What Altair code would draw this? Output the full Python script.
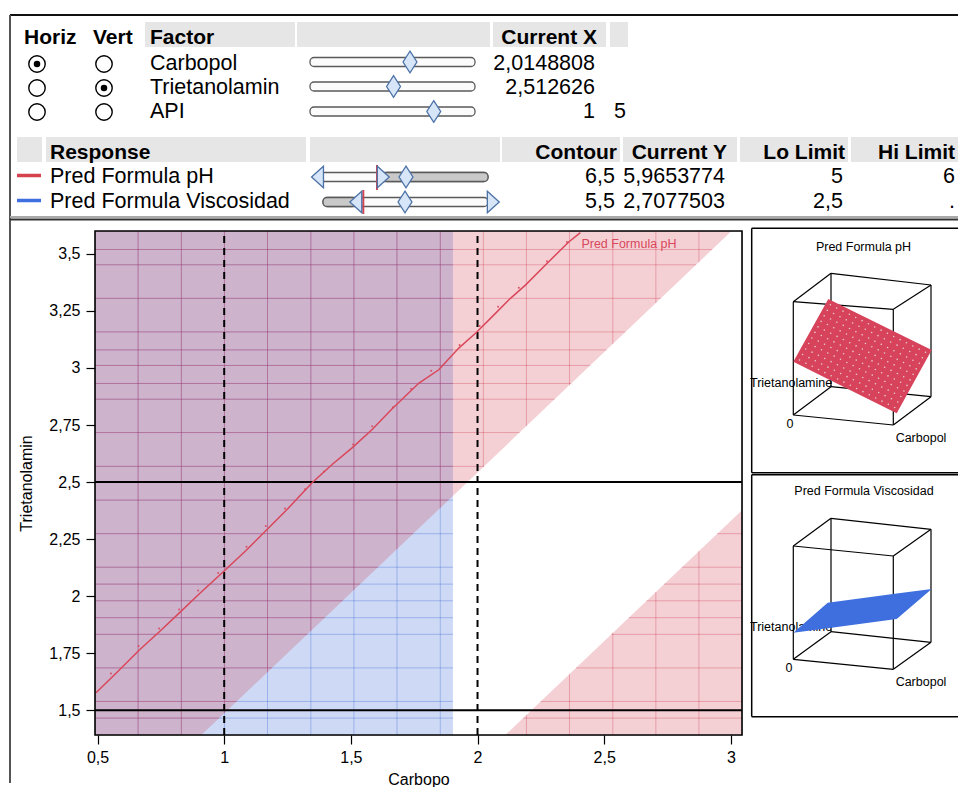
import altair as alt
import numpy as np
import pandas as pd

FONT = "Liberation Sans"

# ---------------- values ----------------
FACTORS = ["Carbopol", "Trietanolamin", "API"]
CURRENT_X = ["2,0148808", "2,512626", "1"]
FACTOR_VALUE = [2.0148808, 2.512626, 1.0]
FACTOR_LOW = [0.5, 1.5, 0.25]
FACTOR_HIGH = [3.0, 3.5, 1.25]
HORIZ_ON = [True, False, False]
VERT_ON = [False, True, False]
CUT_COLUMN = ["", "", "5"]

RESPONSES = ["Pred Formula pH", "Pred Formula Viscosidad"]
RESPONSE_COLOR = ["#d5434f", "#3e6fe0"]
CONTOUR = ["6,5", "5,5"]
CURRENT_Y = ["5,9653774", "2,7077503"]
LO_LIMIT = ["5", "2,5"]
HI_LIMIT = ["6", "."]

X_TICKS = [0.5, 1, 1.5, 2, 2.5, 3]
Y_TICKS = [1.5, 1.75, 2, 2.25, 2.5, 2.75, 3, 3.25, 3.5]
X_DOMAIN = [0.49, 3.044]
Y_DOMAIN = [1.392, 3.6]

VISC_EDGE = 1.903                      # Viscosidad = 2,5 (Lo Limit)
PH_HI_EDGE_X = [0.910, 3.003]          # pH = 6 (Hi Limit)
PH_HI_EDGE_Y = [1.392, 3.600]
PH_LO_EDGE_X = [2.110, 3.044]          # pH = 5 (Lo Limit)
PH_LO_EDGE_Y = [1.392, 2.377]

MESH_X = [0.660, 0.831, 1.001, 1.171, 1.342, 1.512, 1.682, 1.853, 2.023,
          2.193, 2.363, 2.534, 2.704, 2.874]
MESH_Y = [3.519, 3.452, 3.305, 3.158, 3.079, 3.011, 2.932, 2.863, 2.717,
          2.569, 2.421, 2.274, 2.127, 2.053, 1.980, 1.906, 1.833, 1.686,
          1.539, 1.466]

REF_H = [1.5, 2.5]
REF_V = [1.0, 2.0]

CONTOUR_X = [0.494, 0.579, 0.664, 0.743, 0.822, 0.901, 1.006, 1.085, 1.164,
             1.243, 1.348, 1.427, 1.506, 1.584, 1.663, 1.769, 1.847, 1.926,
             1.992, 2.058, 2.130, 2.189, 2.274, 2.360, 2.406]
CONTOUR_Y = [1.577, 1.669, 1.763, 1.843, 1.926, 2.010, 2.117, 2.199, 2.287,
             2.374, 2.498, 2.578, 2.651, 2.730, 2.821, 2.934, 2.992, 3.087,
             3.152, 3.225, 3.305, 3.363, 3.458, 3.552, 3.593]
DOT_X = [0.553, 0.662, 0.743, 0.822, 0.897, 0.976, 1.088, 1.164, 1.240, 1.319,
         1.394, 1.509, 1.584, 1.666, 1.738, 1.817, 1.929, 2.008, 2.081, 2.163,
         2.274, 2.353]
DOT_Y = [1.661, 1.782, 1.859, 1.942, 2.025, 2.102, 2.217, 2.308, 2.384, 2.469,
         2.546, 2.665, 2.745, 2.828, 2.909, 2.988, 3.101, 3.184, 3.268, 3.351,
         3.468, 3.552]
CONTOUR_LABEL = "Pred Formula pH"
CONTOUR_LABEL_AT = (2.41, 3.542)

# 3-D thumbnails (projected corner positions on screen)
CUBE_X = [793.3, 893.3, 893.3, 793.3, 831.0, 931.0, 931.0, 831.0]
CUBE_PH_Y = [301.7, 309.3, 425.0, 415.0, 273.3, 285.0, 396.7, 386.7]
CUBE_VI_Y = [546.0, 556.0, 669.3, 659.3, 518.3, 529.3, 642.3, 631.7]
CUBE_EDGES = [(0, 1), (1, 2), (2, 3), (3, 0), (4, 5), (5, 6), (6, 7), (7, 4),
              (0, 4), (1, 5), (2, 6), (3, 7)]
SURF_PH_X = [793.3, 828.3, 931.7, 896.7]   # left, top, right, bottom corner
SURF_PH_Y = [361.7, 299.0, 350.0, 413.3]
SURF_VI_X = [793.3, 827.7, 931.7, 896.7]
SURF_VI_Y = [632.7, 602.7, 589.0, 619.0]

# ---------------- layout ----------------
PLOT_W, PLOT_H = 647, 504
OX, OY = 95, 231            # screen position of the plot origin
RIGHT = 958                 # right edge of the window content


def scr(df):
    """screen px -> px relative to the plot origin (identity scale)."""
    d = df.copy()
    for c in ("x", "x2"):
        if c in d:
            d["p" + c] = d[c] - OX
    for c in ("y", "y2"):
        if c in d:
            d["p" + c] = d[c] - OY
    return d.drop(columns=[c for c in ("x", "x2", "y", "y2") if c in d])


def chrome(df, mark):
    d = scr(df)
    enc = {"x": alt.X("px:Q", scale=None), "y": alt.Y("py:Q", scale=None)}
    if "px2" in d:
        enc["x2"] = alt.X2("px2:Q")
    if "py2" in d:
        enc["y2"] = alt.Y2("py2:Q")
    if "text" in d:
        enc["text"] = alt.Text("text:N")
    if "color" in d:
        enc["color"] = alt.Color("color:N", scale=None)
    if "fill" in d:
        enc["fill"] = alt.Fill("fill:N", scale=None)
    return mark(alt.Chart(d)).encode(**enc)


# ================= TOP PANEL =================
FROW = [64, 88, 112]
SROW = [62, 86.5, 111.5]
RROW = [177, 202]

cells = pd.DataFrame(
    [dict(x=a, x2=b, y=22, y2=47) for a, b in [(145, 295), (297, 490), (493, 606), (610, 628)]] +
    [dict(x=a, x2=b, y=137, y2=162) for a, b in [(17, 42), (46, 306), (310, 500), (502, 620),
                                                 (623, 737), (740, 848), (851, RIGHT)]])
frame = pd.DataFrame([
    dict(x=10, y=15, x2=RIGHT, y2=15, color="#111111"),
    dict(x=10, y=15, x2=10, y2=783, color="#555555"),
    dict(x=10, y=217, x2=RIGHT, y2=217, color="#aaaaaa"),
    dict(x=10, y=219.5, x2=RIGHT, y2=219.5, color="#333333"),
])
anchor = pd.DataFrame([dict(x=8, x2=9, y=8, y2=9)])
bold_l = pd.DataFrame(dict(text=["Horiz", "Vert", "Factor", "Response"],
                           x=[24, 93, 150, 50], y=[37.5, 37.5, 37.5, 152.5]))
bold_r = pd.DataFrame(dict(text=["Current X", "Contour", "Current Y", "Lo Limit", "Hi Limit"],
                           x=[597, 617, 727, 845, 955], y=[37.5, 152.5, 152.5, 152.5, 152.5]))
reg_l = pd.DataFrame(dict(text=FACTORS + RESPONSES + CUT_COLUMN,
                          x=[150] * 3 + [50] * 2 + [614] * 3,
                          y=FROW + RROW + FROW))
reg_r = pd.DataFrame(dict(text=CURRENT_X + CONTOUR + CURRENT_Y + LO_LIMIT + HI_LIMIT,
                          x=[595] * 3 + [615] * 2 + [725] * 2 + [843] * 2 + [955] * 2,
                          y=FROW + RROW * 4))
radios = pd.DataFrame(dict(x=[37] * 3 + [104] * 3, y=FROW + FROW))
radio_on = pd.DataFrame(dict(
    x=[37 for on in HORIZ_ON if on] + [104 for on in VERT_ON if on],
    y=[r for r, on in zip(FROW, HORIZ_ON) if on] + [r for r, on in zip(FROW, VERT_ON) if on]))
legend_lines = pd.DataFrame(dict(x=[17, 17], x2=[41, 41], y=[175.5, 200.5], y2=[175.5, 200.5],
                                 color=RESPONSE_COLOR))
tracks = pd.DataFrame([dict(x=310, x2=475, y=r - 4.5, y2=r + 4.5, fill="#fbfbfb") for r in SROW] + [
    dict(x=320, x2=488, y=RROW[0] - 4.5, y2=RROW[0] + 4.5, fill="#fbfbfb"),
    dict(x=383, x2=488, y=RROW[0] - 4.5, y2=RROW[0] + 4.5, fill="#c9c9c9"),
    dict(x=323, x2=488, y=RROW[1] - 4.5, y2=RROW[1] + 4.5, fill="#fbfbfb"),
    dict(x=323, x2=356, y=RROW[1] - 4.5, y2=RROW[1] + 4.5, fill="#c9c9c9"),
])
red_marks = pd.DataFrame(dict(x=[377, 363.3], x2=[377, 363.3], y=[165, 190], y2=[190, 214]))
thumb_x = [310 + (v - lo) / (hi - lo) * 165 for v, lo, hi in zip(FACTOR_VALUE, FACTOR_LOW, FACTOR_HIGH)]
diamonds = pd.DataFrame(dict(x=thumb_x + [406, 405], y=SROW + RROW))
tri_left = pd.DataFrame(dict(x=[317.5, 355.8], y=RROW))
tri_right = pd.DataFrame(dict(x=[383.3, 493.3], y=RROW))

DIAMOND = "M0,-1L0.64,0L0,1L-0.64,0Z"
TRI_L = "M-0.55,0L0.55,-1L0.55,1Z"
TRI_R = "M0.55,0L-0.55,-1L-0.55,1Z"
thumb_style = dict(size=470, fill="#d6e6f8", stroke="#4d72a6", strokeWidth=1.3,
                   fillOpacity=1, opacity=1, filled=False)

top_layers = [
    chrome(anchor, lambda c: c.mark_rect(color="white", opacity=0)),
    chrome(cells, lambda c: c.mark_rect(color="#e6e6e6")),
    chrome(frame, lambda c: c.mark_rule(strokeWidth=2)),
    chrome(bold_l, lambda c: c.mark_text(align="left", baseline="middle", font=FONT, fontSize=21,
                                         fontWeight="bold", color="black")),
    chrome(bold_r, lambda c: c.mark_text(align="right", baseline="middle", font=FONT, fontSize=21,
                                         fontWeight="bold", color="black")),
    chrome(reg_l, lambda c: c.mark_text(align="left", baseline="middle", font=FONT, fontSize=21.5,
                                        color="black")),
    chrome(reg_r, lambda c: c.mark_text(align="right", baseline="middle", font=FONT, fontSize=21.5,
                                        color="black")),
    chrome(radios, lambda c: c.mark_point(shape="circle", size=270, fill="white", stroke="black",
                                          strokeWidth=1.4, fillOpacity=1, opacity=1, filled=False)),
    chrome(radio_on, lambda c: c.mark_circle(size=42, color="black", opacity=1)),
    chrome(legend_lines, lambda c: c.mark_rule(strokeWidth=3.5)),
    chrome(tracks, lambda c: c.mark_rect(cornerRadius=4, stroke="#5a5a5a", strokeWidth=1.3)),
    chrome(red_marks, lambda c: c.mark_rule(color="#d5434f", strokeWidth=2)),
    chrome(tri_left, lambda c: c.mark_point(shape=TRI_L, **thumb_style)),
    chrome(tri_right, lambda c: c.mark_point(shape=TRI_R, **thumb_style)),
    chrome(diamonds, lambda c: c.mark_point(shape=DIAMOND, **thumb_style)),
]


# ================= MAIN CONTOUR PLOT =================
xmin, xmax = X_DOMAIN
ymin, ymax = Y_DOMAIN
xs = alt.Scale(domain=X_DOMAIN, nice=False, zero=False)
ys = alt.Scale(domain=Y_DOMAIN, nice=False, zero=False)
label_expr = "replace(format(datum.value, ''), '.', ',')"
x_axis = alt.Axis(values=X_TICKS, labelExpr=label_expr, title="Carbopo", grid=False, domain=False,
                  tickSize=9, tickColor="black", tickWidth=1.2, labelFontSize=16, labelColor="black",
                  labelFont=FONT, titleFont=FONT, titleFontSize=16, titleFontWeight="normal",
                  titleColor="black", labelPadding=5, titlePadding=6, labelOverlap=False)
y_axis = alt.Axis(values=Y_TICKS, labelExpr=label_expr, title="Trietanolamin", grid=False,
                  domain=False, tickSize=9, tickColor="black", tickWidth=1.2, labelFontSize=16,
                  labelColor="black", labelFont=FONT, titleFont=FONT, titleFontSize=16,
                  titleFontWeight="normal", titleColor="black", labelPadding=6, titlePadding=14,
                  labelOverlap=False)


def main(df, mark):
    enc = {"x": alt.X("x:Q", scale=xs, axis=x_axis), "y": alt.Y("y:Q", scale=ys, axis=y_axis)}
    if "x2" in df.columns:
        enc["x2"] = alt.X2("x2:Q")
    if "y2" in df.columns:
        enc["y2"] = alt.Y2("y2:Q")
    if "text" in df.columns:
        enc["text"] = alt.Text("text:N")
    return mark(alt.Chart(df)).encode(**enc)


def hi_y(x):
    return float(np.interp(x, PH_HI_EDGE_X, PH_HI_EDGE_Y))


def hi_x(y):
    return float(np.interp(y, PH_HI_EDGE_Y, PH_HI_EDGE_X))


def lo_y(x):
    return float(np.interp(x, PH_LO_EDGE_X, PH_LO_EDGE_Y))


def lo_x(y):
    return float(np.interp(y, PH_LO_EDGE_Y, PH_LO_EDGE_X))


blue_rect = pd.DataFrame(dict(x=[xmin], x2=[VISC_EDGE], y=[ymin], y2=[ymax]))
pink_hi = pd.DataFrame(dict(x=[xmin, PH_HI_EDGE_X[0], PH_HI_EDGE_X[1]],
                            y=[ymin, ymin, ymax], y2=[ymax, ymax, ymax]))
pink_lo = pd.DataFrame(dict(x=[PH_LO_EDGE_X[0], xmax], y=[ymin, ymin], y2=[ymin, lo_y(xmax)]))

blue_mesh, pink_mesh = [], []
for gx in MESH_X:
    if gx < VISC_EDGE:
        blue_mesh.append(dict(x=gx, x2=gx, y=ymin, y2=ymax))
    yl = hi_y(gx)
    if yl < ymax:
        pink_mesh.append(dict(x=gx, x2=gx, y=yl, y2=ymax))
    yh = lo_y(gx)
    if yh > ymin:
        pink_mesh.append(dict(x=gx, x2=gx, y=ymin, y2=yh))
for gy in MESH_Y:
    blue_mesh.append(dict(x=xmin, x2=VISC_EDGE, y=gy, y2=gy))
    pink_mesh.append(dict(x=xmin, x2=hi_x(gy), y=gy, y2=gy))
    if gy < PH_LO_EDGE_Y[1]:
        pink_mesh.append(dict(x=lo_x(gy), x2=xmax, y=gy, y2=gy))
blue_mesh = pd.DataFrame(blue_mesh)
pink_mesh = pd.DataFrame(pink_mesh)

ref_h = pd.DataFrame(dict(x=[xmin] * len(REF_H), x2=[xmax] * len(REF_H), y=REF_H))
ref_v = pd.DataFrame(dict(x=REF_V, y=[ymin] * len(REF_V), y2=[ymax] * len(REF_V)))
contour = pd.DataFrame(dict(x=CONTOUR_X, y=CONTOUR_Y))
dots = pd.DataFrame(dict(x=DOT_X, y=DOT_Y))
label = pd.DataFrame(dict(x=[CONTOUR_LABEL_AT[0]], y=[CONTOUR_LABEL_AT[1]], text=[CONTOUR_LABEL]))
frame_box = pd.DataFrame(dict(x=[xmin], x2=[xmax], y=[ymin], y2=[ymax]))

main_layers = [
    main(blue_rect, lambda c: c.mark_rect(color="#3767d7", opacity=0.25)),
    main(blue_mesh, lambda c: c.mark_rule(color="#2b57d0", opacity=0.3, strokeWidth=1)),
    main(pink_hi, lambda c: c.mark_area(color="#d34357", opacity=0.25)),
    main(pink_lo, lambda c: c.mark_area(color="#d34357", opacity=0.25)),
    main(pink_mesh, lambda c: c.mark_rule(color="#c8283e", opacity=0.3, strokeWidth=1)),
    main(ref_h, lambda c: c.mark_rule(color="black", strokeWidth=2)),
    main(ref_v, lambda c: c.mark_rule(color="black", strokeWidth=2, strokeDash=[7, 5])),
    main(contour, lambda c: c.mark_line(color="#d9475a", strokeWidth=1.5)),
    main(dots, lambda c: c.mark_circle(color="#d9475a", size=4, opacity=0.9)),
    main(label, lambda c: c.mark_text(color="#d9475a", align="left", baseline="middle",
                                      font=FONT, fontSize=12.5)),
    main(frame_box, lambda c: c.mark_rect(fillOpacity=0, stroke="black", strokeWidth=1.6)),
]


# ================= 3-D THUMBNAILS =================
def quad_area(qx, qy):
    L, T, R, B = list(zip(qx, qy))
    xs_ = sorted(set(qx))
    up = np.interp(xs_, [L[0], T[0], R[0]], [L[1], T[1], R[1]])
    dn = np.interp(xs_, [L[0], B[0], R[0]], [L[1], B[1], R[1]])
    return pd.DataFrame(dict(x=xs_, y=up, y2=dn))


box_lines = pd.DataFrame([
    dict(x=751.7, y=228.3, x2=RIGHT, y2=228.3),
    dict(x=751.7, y=228.3, x2=751.7, y2=472.7),
    dict(x=751.7, y=472.7, x2=RIGHT, y2=472.7),
    dict(x=751.7, y=474.7, x2=RIGHT, y2=474.7),
    dict(x=751.7, y=474.7, x2=751.7, y2=716.7),
    dict(x=751.7, y=716.7, x2=RIGHT, y2=716.7),
])
cube = pd.DataFrame(
    [dict(x=CUBE_X[a], y=CUBE_PH_Y[a], x2=CUBE_X[b], y2=CUBE_PH_Y[b]) for a, b in CUBE_EDGES] +
    [dict(x=CUBE_X[a], y=CUBE_VI_Y[a], x2=CUBE_X[b], y2=CUBE_VI_Y[b]) for a, b in CUBE_EDGES])
titles = pd.DataFrame(dict(text=["Pred Formula pH", "Pred Formula Viscosidad"],
                           x=[863.5, 864], y=[246.7, 490.7]))
center_labels = pd.DataFrame(dict(text=["0", "Carbopol", "0", "Carbopol"],
                                  x=[790, 921, 789, 921], y=[424, 438, 668, 682]))
triet_vi = pd.DataFrame(dict(text=["Trietanolamine"], x=[750], y=[627]))
triet_ph = pd.DataFrame(dict(text=["Trietanolamine"], x=[750], y=[383]))

# light mesh speckle on the pH surface
L0 = np.array([SURF_PH_X[0], SURF_PH_Y[0]])
T0 = np.array([SURF_PH_X[1], SURF_PH_Y[1]])
B0 = np.array([SURF_PH_X[3], SURF_PH_Y[3]])
spk = [L0 + a * (T0 - L0) + b * (B0 - L0)
       for a in np.linspace(0.06, 0.94, 11) for b in np.linspace(0.04, 0.96, 16)]
speckle = pd.DataFrame(dict(x=[p[0] for p in spk], y=[p[1] for p in spk]))

txt = dict(font=FONT, fontSize=12.5, color="black", baseline="middle")
side_layers = [
    chrome(box_lines, lambda c: c.mark_rule(color="black", strokeWidth=1.5)),
    chrome(cube, lambda c: c.mark_rule(color="black", strokeWidth=1.2)),
    chrome(titles, lambda c: c.mark_text(align="center", **txt)),
    chrome(center_labels, lambda c: c.mark_text(align="center", **txt)),
    chrome(triet_vi, lambda c: c.mark_text(align="left", **txt)),
    chrome(quad_area(SURF_PH_X, SURF_PH_Y), lambda c: c.mark_area(color="#d6435a", opacity=1)),
    chrome(speckle, lambda c: c.mark_circle(color="#eeeeee", size=2.5, opacity=0.8)),
    chrome(quad_area(SURF_VI_X, SURF_VI_Y), lambda c: c.mark_area(color="#3f6fdf", opacity=1)),
    chrome(triet_ph, lambda c: c.mark_text(align="left", **txt)),
]

chart = alt.layer(*main_layers, *top_layers, *side_layers).properties(
    width=PLOT_W, height=PLOT_H, padding=0
).configure_view(stroke=None).configure(font=FONT)

chart.save("out.html", embed_options={"renderer": "svg", "actions": False})
